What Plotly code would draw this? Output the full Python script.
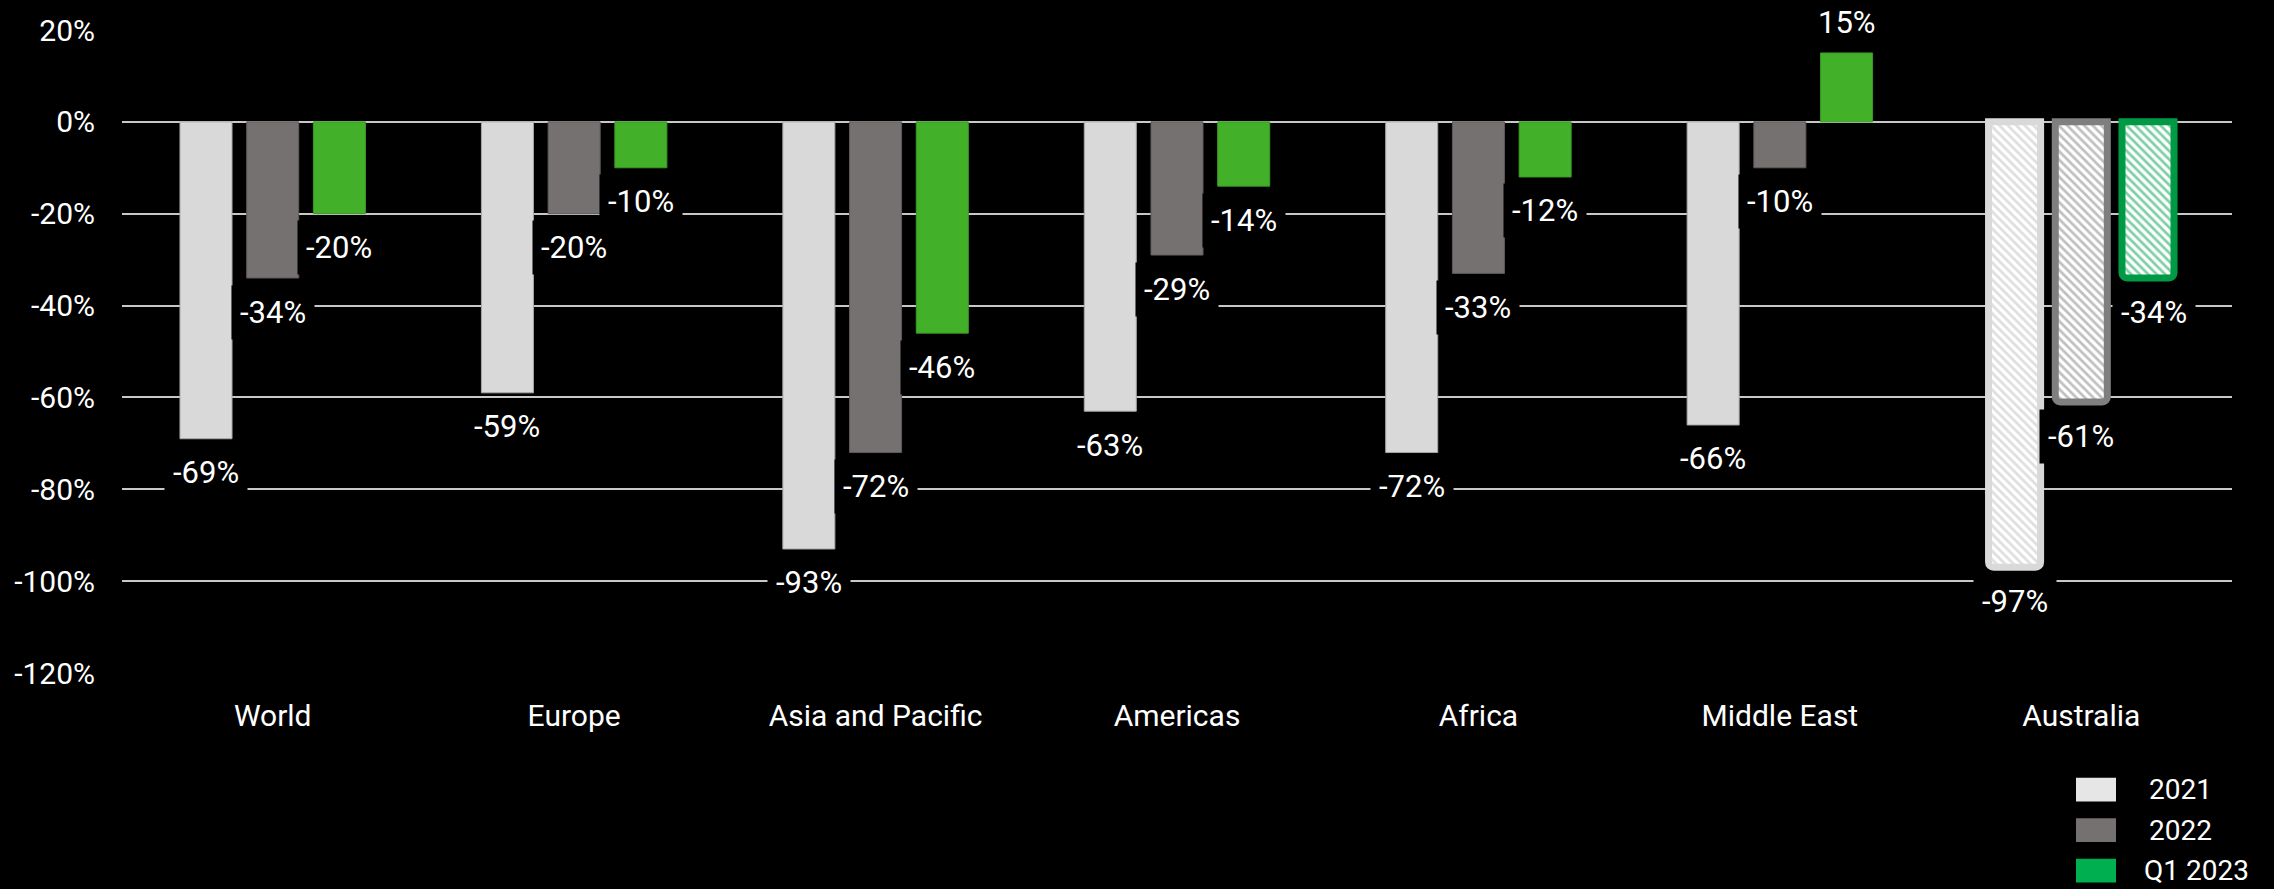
import plotly.graph_objects as go

# ---- data ----
categories = ["World", "Europe", "Asia and Pacific", "Americas", "Africa", "Middle East", "Australia"]
series_names = ["2021", "2022", "Q1 2023"]
values_2021 = [-69, -59, -93, -63, -72, -66, -97]
values_2022 = [-34, -20, -72, -29, -33, -10, -61]
values_q1_2023 = [-20, -10, -46, -14, -12, 15, -34]
hatched_categories = ["Australia"]
y_ticks = [20, 0, -20, -40, -60, -80, -100, -120]
y_tick_labels = ["20%", "0%", "-20%", "-40%", "-60%", "-80%", "-100%", "-120%"]

series_values = [values_2021, values_2022, values_q1_2023]

# ---- styling ----
W, H = 2274, 889
M_L, M_R, M_T, M_B = 122, 42, 22, 216
BARGAP, BARGROUPGAP = 0.336, 0.22
FONT = "Roboto"

solid_fill = ["#D9D9D9", "#767171", "#43B02A"]
solid_edge = ["#A6A6A6", "#5E5A5A", "#3A9A25"]
hatch_edge = ["#D9D9D9", "#7F7F7F", "#009A44"]
hatch_fg = ["#BDBDBD", "#7F7F7F", "#00A04A"]
legend_fill = ["#E7E6E6", "#767171", "#00B050"]

fig = go.Figure()

plain_idx = [i for i, c in enumerate(categories) if c not in hatched_categories]
hatch_idx = [i for i, c in enumerate(categories) if c in hatched_categories]

for s, (name, vals) in enumerate(zip(series_names, series_values)):
    fig.add_trace(go.Bar(
        x=[categories[i] for i in plain_idx],
        y=[vals[i] for i in plain_idx],
        name=name,
        offsetgroup=name,
        marker=dict(color=solid_fill[s], line=dict(color=solid_edge[s], width=1)),
        showlegend=False,
        hoverinfo="x+y",
    ))
    fig.add_trace(go.Bar(
        x=[categories[i] for i in hatch_idx],
        y=[vals[i] for i in hatch_idx],
        name=name,
        offsetgroup=name,
        marker=dict(
            color="white",
            line=dict(color=hatch_edge[s], width=7),
            pattern=dict(shape="\\", fgcolor=hatch_fg[s], bgcolor="white",
                         size=6, solidity=0.45),
            cornerradius=5,
        ),
        showlegend=False,
        hoverinfo="x+y",
    ))

# value labels on black boxes, placed at each bar's slot
plot_w = W - M_L - M_R
slot_px = plot_w / len(categories) * (1 - BARGAP) / len(series_names)
annotations = []
for s, vals in enumerate(series_values):
    for cat, v in zip(categories, vals):
        nudge = 6 if (cat in hatched_categories and s == len(series_names) - 1) else 0
        annotations.append(dict(
            x=cat, y=v, xref="x", yref="y",
            text=f"{v}%", showarrow=False,
            xshift=(s - (len(series_names) - 1) / 2) * slot_px + nudge,
            yshift=30 if v > 0 else -34,
            yanchor="middle",
            font=dict(family=FONT, size=31, color="white"),
            bgcolor="black", borderpad=8,
        ))

# legend drawn as swatches + labels at the lower right
plot_h = H - M_T - M_B
def px_x(px):
    return (px - M_L) / plot_w
def px_y(py):
    return (H - M_B - py) / plot_h

shapes = []
for s, name in enumerate(series_names):
    top = 779 + s * 41
    shapes.append(dict(
        type="rect", xref="paper", yref="paper",
        x0=px_x(2076), x1=px_x(2116), y0=px_y(top), y1=px_y(top + 24),
        fillcolor=legend_fill[s], line=dict(width=0),
    ))
    annotations.append(dict(
        x=px_x(2142 if len(name) > 4 else 2147), y=px_y(top + 12),
        xref="paper", yref="paper", xanchor="left", yanchor="middle",
        text=name, showarrow=False,
        font=dict(family=FONT, size=28, color="white"),
    ))

fig.update_layout(
    width=W, height=H,
    margin=dict(l=M_L, r=M_R, t=M_T, b=M_B),
    paper_bgcolor="black", plot_bgcolor="black",
    barmode="group", bargap=BARGAP, bargroupgap=BARGROUPGAP,
    font=dict(family=FONT, color="white"),
    annotations=annotations,
    shapes=shapes,
    showlegend=False,
)
fig.update_xaxes(
    categoryorder="array", categoryarray=categories,
    showgrid=False, zeroline=False, showline=False,
    tickfont=dict(family=FONT, size=30, color="white"),
    ticklabelstandoff=22,
)
fig.update_yaxes(
    range=[-120, 20], tickvals=y_ticks, ticktext=y_tick_labels,
    showgrid=True, gridcolor="#C8C8C8", gridwidth=2,
    zeroline=True, zerolinecolor="#C8C8C8", zerolinewidth=2,
    showline=False,
    tickfont=dict(family=FONT, size=30, color="white"),
    ticklabelstandoff=26,
)

fig.write_html("out.html")
